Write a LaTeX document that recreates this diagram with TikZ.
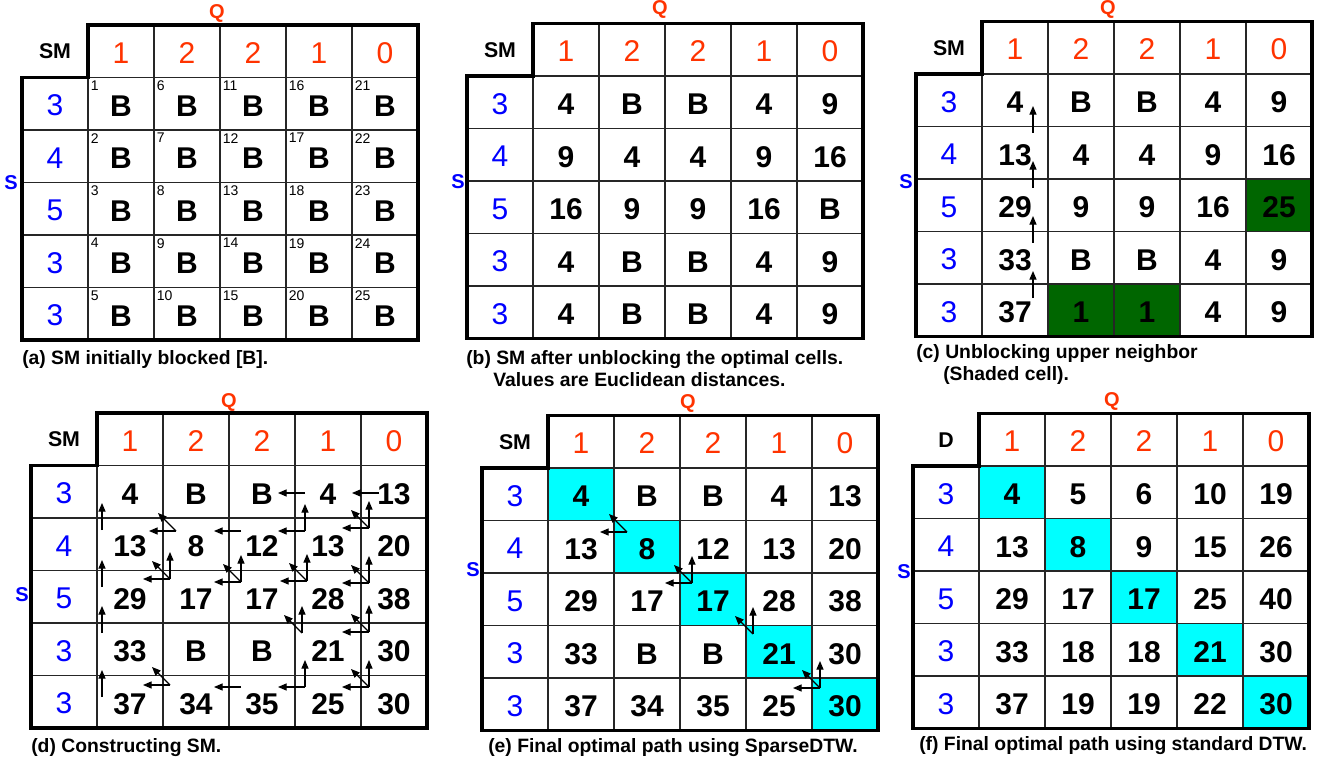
\documentclass[tikz,border=0pt]{standalone}
\usepackage{fontspec}
\setmainfont{Liberation Sans}
\usetikzlibrary{arrows.meta,calc}
\definecolor{qred}{HTML}{FF3300}
\definecolor{sblue}{HTML}{0000FF}
\definecolor{dgreen}{RGB}{0,102,0}
\definecolor{cyanc}{HTML}{00FFFF}
\tikzset{
  val/.style={font=\fontsize{22.5}{25}\selectfont\bfseries, inner sep=0pt},
  qnum/.style={font=\fontsize{22.5}{25}\selectfont, text=qred, inner sep=0pt},
  snum/.style={font=\fontsize{22.5}{25}\selectfont, text=sblue, inner sep=0pt},
  corner/.style={font=\fontsize{16}{18}\selectfont\bfseries, inner sep=0pt},
  axisq/.style={font=\fontsize{15}{17}\selectfont\bfseries, text=qred, inner sep=0pt},
  axiss/.style={font=\fontsize{15}{17}\selectfont\bfseries, text=sblue, inner sep=0pt},
  idx/.style={font=\fontsize{10.5}{11}\selectfont, inner sep=0pt, anchor=north west},
  captext/.style={font=\fontsize{14.5}{16}\selectfont\bfseries, anchor=base west, inner sep=0pt},
  gridline/.style={line width=1.1pt, black!85},
  border/.style={line width=2.3pt, line join=miter},
  arr/.style={-{Triangle[length=6.5pt,width=5.3pt]}, line width=0.9pt},
}
\newcommand\cellfill[5]{\fill[#5] (#1+66*#4,#2+52.5*#3) rectangle ++(66,52.5);}
\newcommand\drawpanel[5]{%
\begin{scope}[shift={(#2,#3)}]
  \foreach \c in {2,...,5} {\draw[gridline] (66*\c,0) -- (66*\c,315);}
  \draw[gridline] (66,52.5) -- (66,315);
  \foreach \r in {2,...,5} {\draw[gridline] (0,52.5*\r) -- (396,52.5*\r);}
  \draw[gridline] (66,52.5) -- (396,52.5);
  \draw[border] (66,0) -- (396,0) -- (396,315) -- (0,315) -- (0,52.5) -- (66,52.5) -- cycle;
  \node[corner] (#1-corner) at (33,26.25) {#4};
  \foreach \q [count=\c] in {1,2,2,1,0} {\node[qnum] (#1-q-\c) at (66*\c+33,28) {\q};}
  \foreach \s [count=\r] in {3,4,5,3,3} {\node[snum] (#1-s-\r) at (33,52.5*\r+28) {\s};}
  \foreach \r in {1,...,5} {\foreach \c in {1,...,5} {\coordinate (#1-tl-\r-\c) at (66*\c,52.5*\r);}}
  \foreach \row [count=\r] in {#5} {\foreach \v [count=\c] in \row {\node[val] (#1-\r-\c) at (66*\c+33,52.5*\r+28.5) {\v};}}
\end{scope}}
\newcommand\tri[8]{%
  \coordinate (#1-b-#2-#3) at ($(#1-tl-#2-#3)+(#4,#5)$);
  \ifnum#6=1 \draw[arr] (#1-b-#2-#3) -- ++(0,-27);\fi
  \ifnum#7=1 \draw[arr] (#1-b-#2-#3) -- ++(-27,0);\fi
  \ifnum#8=1 \draw[arr] (#1-b-#2-#3) -- ++(-18,-18);\fi}
\begin{document}
\begin{tikzpicture}[x=0.75pt,y=-0.75pt]
\useasboundingbox (0,0) rectangle (1325,763);
% ---------- (a)
\drawpanel{a}{22}{25}{SM}{{B,B,B,B,B},{B,B,B,B,B},{B,B,B,B,B},{B,B,B,B,B},{B,B,B,B,B}}
\foreach \r in {1,...,5} {\foreach \c in {1,...,5} {%
  \pgfmathtruncatemacro\k{(\c-1)*5+\r}
  \node[idx] (a-i-\r-\c) at ($(a-tl-\r-\c)+(2.5,3)$) {\k};}}
\node[axisq] (a-Q) at (217,13) {Q};
\node[axiss] (a-S) at (11,183) {S};
\node[captext] (a-cap) at (22,364) {(a) SM initially blocked [B].};
% ---------- (b)
\drawpanel{b}{467}{23.5}{SM}{{4,B,B,4,9},{9,4,4,9,16},{16,9,9,16,B},{4,B,B,4,9},{4,B,B,4,9}}
\node[axisq] (b-Q) at (660,9) {Q};
\node[axiss] (b-S) at (458,182) {S};
\node[captext] (b-cap1) at (466,364) {(b) SM after unblocking the optimal cells.};
\node[captext] (b-cap2) at (493,386) {Values are Euclidean distances.};
% ---------- (c)
\cellfill{916}{21.5}{3}{5}{dgreen}
\cellfill{916}{21.5}{5}{2}{dgreen}
\cellfill{916}{21.5}{5}{3}{dgreen}
\drawpanel{c}{916}{21.5}{SM}{{4,B,B,4,9},{13,4,4,9,16},{29,9,9,16,25},{33,B,B,4,9},{37,1,1,4,9}}
\tri{c}{2}{1}{51}{6.5}{1}{0}{0}
\tri{c}{3}{1}{51}{9}{1}{0}{0}
\tri{c}{4}{1}{51}{11.5}{1}{0}{0}
\tri{c}{5}{1}{51}{14}{1}{0}{0}
\node[axisq] (c-Q) at (1108,9) {Q};
\node[axiss] (c-S) at (906,182) {S};
\node[captext] (c-cap1) at (916,358) {(c) Unblocking upper neighbor};
\node[captext] (c-cap2) at (943,380) {(Shaded cell).};
% ---------- (d)
\drawpanel{d}{31}{413}{SM}{{4,B,B,4,13},{13,8,12,13,20},{29,17,17,28,38},{33,B,B,21,30},{37,34,35,25,30}}
\tri{d}{2}{1}{5}{12}{1}{0}{0}
\tri{d}{3}{1}{5}{16.5}{1}{0}{0}
\tri{d}{4}{1}{5}{10}{1}{0}{0}
\tri{d}{5}{1}{5}{21.5}{1}{0}{0}
\tri{d}{1}{4}{10}{27.5}{0}{1}{0}
\tri{d}{1}{5}{18}{27.5}{0}{1}{0}
\tri{d}{2}{2}{13}{13}{0}{1}{1}
\tri{d}{2}{3}{12}{13}{0}{1}{0}
\tri{d}{2}{4}{10}{13}{1}{1}{0}
\tri{d}{2}{5}{8}{10}{1}{1}{1}
\tri{d}{3}{2}{7}{8.5}{1}{1}{1}
\tri{d}{3}{3}{12}{11.5}{1}{1}{1}
\tri{d}{3}{4}{12}{10.5}{1}{1}{1}
\tri{d}{3}{5}{8}{12.5}{1}{1}{1}
\tri{d}{4}{4}{7}{10}{1}{0}{1}
\tri{d}{4}{5}{8}{9}{1}{1}{1}
\tri{d}{5}{2}{7}{9.5}{0}{1}{1}
\tri{d}{5}{3}{12}{11.5}{0}{1}{0}
\tri{d}{5}{4}{10}{11.5}{1}{1}{0}
\tri{d}{5}{5}{8}{11.5}{1}{1}{1}
\node[axisq] (d-Q) at (229,402) {Q};
\node[axiss] (d-S) at (22,595) {S};
\node[captext] (d-cap) at (31,752) {(d) Constructing SM.};
% ---------- (e)
\foreach \i in {1,...,5} {\cellfill{482}{415.5}{\i}{\i}{cyanc}}
\drawpanel{e}{482}{415.5}{SM}{{4,B,B,4,13},{13,8,12,13,20},{29,17,17,28,38},{33,B,B,21,30},{37,34,35,25,30}}
\tri{e}{2}{2}{13}{11.5}{0}{1}{1}
\tri{e}{3}{3}{12}{10}{1}{1}{1}
\tri{e}{4}{4}{7}{8.5}{1}{0}{1}
\tri{e}{5}{5}{8}{10}{1}{1}{1}
\node[axisq] (e-Q) at (688,403) {Q};
\node[axiss] (e-S) at (473,570) {S};
\node[captext] (e-cap) at (488,752) {(e) Final optimal path using SparseDTW.};
% ---------- (f)
\foreach \i in {1,...,5} {\cellfill{913}{413.5}{\i}{\i}{cyanc}}
\drawpanel{f}{913}{413.5}{D}{{4,5,6,10,19},{13,8,9,15,26},{29,17,17,25,40},{33,18,18,21,30},{37,19,19,22,30}}
\node[axisq] (f-Q) at (1112,401) {Q};
\node[axiss] (f-S) at (904,572) {S};
\node[captext] (f-cap) at (919,750) {(f) Final optimal path using standard DTW.};
\end{tikzpicture}
\end{document}
